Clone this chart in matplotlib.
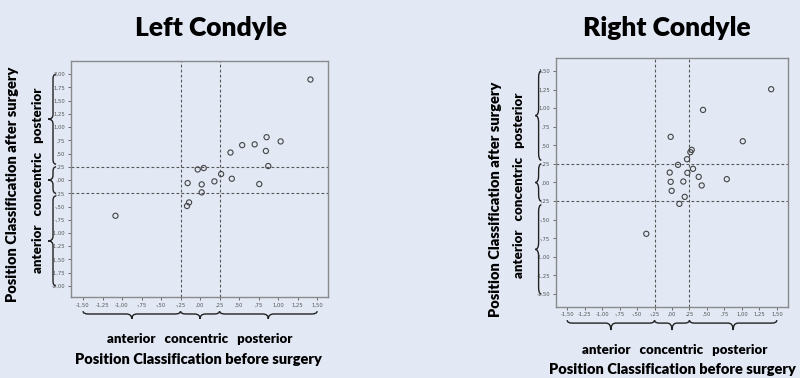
import numpy as np
import matplotlib
matplotlib.use("Agg")
import matplotlib.pyplot as plt
import matplotlib.transforms as mtransforms
from matplotlib.path import Path
from matplotlib.patches import PathPatch
from matplotlib.ticker import FuncFormatter

# --- data ---
left_before = [1.415, 0.853, 1.033, 0.54, 0.70, 0.844, 0.39, 0.874, -0.03, 0.047,
               0.27, 0.407, 0.184, -0.159, 0.021, 0.759, 0.021, -0.141, -0.167, -1.084]
left_after = [1.90, 0.81, 0.73, 0.66, 0.675, 0.55, 0.52, 0.265, 0.20, 0.227,
              0.114, 0.025, -0.025, -0.057, -0.082, -0.076, -0.233, -0.423, -0.49, -0.675]

right_before = [1.419, 0.444, 1.013, -0.019, 0.282, 0.263, 0.215, 0.086, 0.301, -0.033,
                0.220, 0.382, 0.784, -0.019, 0.162, 0.425, -0.005, 0.182, 0.105, -0.368]
right_after = [1.254, 0.976, 0.555, 0.614, 0.439, 0.408, 0.313, 0.237, 0.184, 0.134,
               0.130, 0.076, 0.045, 0.009, 0.013, -0.040, -0.112, -0.193, -0.287, -0.690]

class_bounds = [-0.25, 0.25]
class_label = "anterior   concentric   posterior"
titles = ["Left Condyle", "Right Condyle"]
xlabel = "Position Classification before surgery"
ylabel = "Position Classification after surgery"

BG = "#e2e9f5"
FONT = "Lato"
WEIGHT = 800
W, H = 800, 378

plt.rcParams["font.family"] = [FONT, "DejaVu Sans"]


def fmt(v, pos):
    s = f"{v:.2f}".replace(".", ",")
    if s.startswith("0,"):
        s = s[1:]
    elif s.startswith("-0,"):
        s = "-" + s[2:]
    return s


def brace(ax, a, b, flat, tip, end, vertical, r=0.07):
    m = (a + b) / 2
    pts = [(a, end), (a, flat), (a + r, flat), (m - r, flat), (m, flat), (m, tip),
           (m, flat), (m + r, flat), (b - r, flat), (b, flat), (b, end)]
    codes = [Path.MOVETO, Path.CURVE3, Path.CURVE3, Path.LINETO, Path.CURVE3, Path.CURVE3,
             Path.CURVE3, Path.CURVE3, Path.LINETO, Path.CURVE3, Path.CURVE3]
    if vertical:
        pts = [(p, q) for q, p in pts]
        tr = mtransforms.blended_transform_factory(ax.transAxes, ax.transData)
    else:
        tr = mtransforms.blended_transform_factory(ax.transData, ax.transAxes)
    ax.add_patch(PathPatch(Path(pts, codes), fill=False, lw=1.0, ec="#222222",
                           transform=tr, clip_on=False))


def panel(rect, xs, ys, xlim, ylim, ymax, ybr, xbr):
    ax = fig.add_axes(rect)
    ax.set_facecolor(BG)
    ax.scatter(xs, ys, s=14, facecolors="none", edgecolors="#444444", linewidths=0.8, zorder=3)
    for v in class_bounds:
        ax.axhline(v, color="#555555", lw=0.8, ls=(0, (2.5, 2)))
        ax.axvline(v, color="#555555", lw=0.8, ls=(0, (2.5, 2)))
    ax.set_xlim(*xlim)
    ax.set_ylim(*ylim)
    ax.set_xticks(np.arange(-1.5, 1.51, 0.25))
    ax.set_yticks(np.arange(-ymax, ymax + 0.01, 0.25))
    ax.xaxis.set_major_formatter(FuncFormatter(fmt))
    ax.yaxis.set_major_formatter(FuncFormatter(fmt))
    ax.tick_params(labelsize=3.8, colors="#555555", length=2.5, width=0.6, pad=1.5)
    for lab in ax.get_xticklabels() + ax.get_yticklabels():
        lab.set_family("DejaVu Sans")
    for sp in ax.spines.values():
        sp.set_color("#8a8a8a")
        sp.set_linewidth(1.0)
    # braces along y axis
    yb = [(ymax, 0.30), (0.25, -0.25), (-0.30, -ymax)]
    for top, bot in yb:
        brace(ax, bot, top, ybr[0], ybr[1], ybr[0] + 0.012, True, r=0.09)
    xb = [(-1.5, -0.25), (-0.25, 0.25), (0.25, 1.5)]
    for lo, hi in xb:
        brace(ax, lo, hi, xbr[0], xbr[1], xbr[0] + 0.012, False, r=0.07)
    return ax


fig = plt.figure(figsize=(W / 100, H / 100), dpi=100)
fig.patch.set_facecolor(BG)

axL = panel([71 / W, 1 - 297 / H, 257 / W, 236 / H], left_before, left_after,
            (-1.654, 1.64), (-2.21, 2.25), 2.0, (-0.070, -0.089), (-0.072, -0.093))
axR = panel([556 / W, 1 - 306.7 / H, 232 / W, 248.4 / H], right_before, right_after,
            (-1.66, 1.66), (-1.67, 1.67), 1.5, (-0.075, -0.090), (-0.066, -0.094))

# titles
fig.text(211 / W, 1 - 28 / H, titles[0], ha="center", va="center", fontsize=19, fontweight=WEIGHT)
fig.text(667 / W, 1 - 28 / H, titles[1], ha="center", va="center", fontsize=19, fontweight=WEIGHT)

# left panel labels
fig.text(200 / W, 1 - 339 / H, class_label, ha="center", va="center", fontsize=9.5, fontweight=WEIGHT)
fig.text(198 / W, 1 - 359 / H, xlabel, ha="center", va="center", fontsize=10.5, fontweight=WEIGHT)
fig.text(38 / W, 1 - 180 / H, class_label, ha="center", va="center", rotation=90, fontsize=9.5, fontweight=WEIGHT)
fig.text(13 / W, 1 - 184 / H, ylabel, ha="center", va="center", rotation=90, fontsize=10.5, fontweight=WEIGHT)

# right panel labels
fig.text(675 / W, 1 - 350 / H, class_label, ha="center", va="center", fontsize=9.5, fontweight=WEIGHT)
fig.text(672 / W, 1 - 369 / H, xlabel, ha="center", va="center", fontsize=10.5, fontweight=WEIGHT)
fig.text(519 / W, 1 - 185 / H, class_label, ha="center", va="center", rotation=90, fontsize=9.5, fontweight=WEIGHT)
fig.text(495 / W, 1 - 199 / H, ylabel, ha="center", va="center", rotation=90, fontsize=10.5, fontweight=WEIGHT)

fig.savefig("out.png", dpi=100, facecolor=BG)
